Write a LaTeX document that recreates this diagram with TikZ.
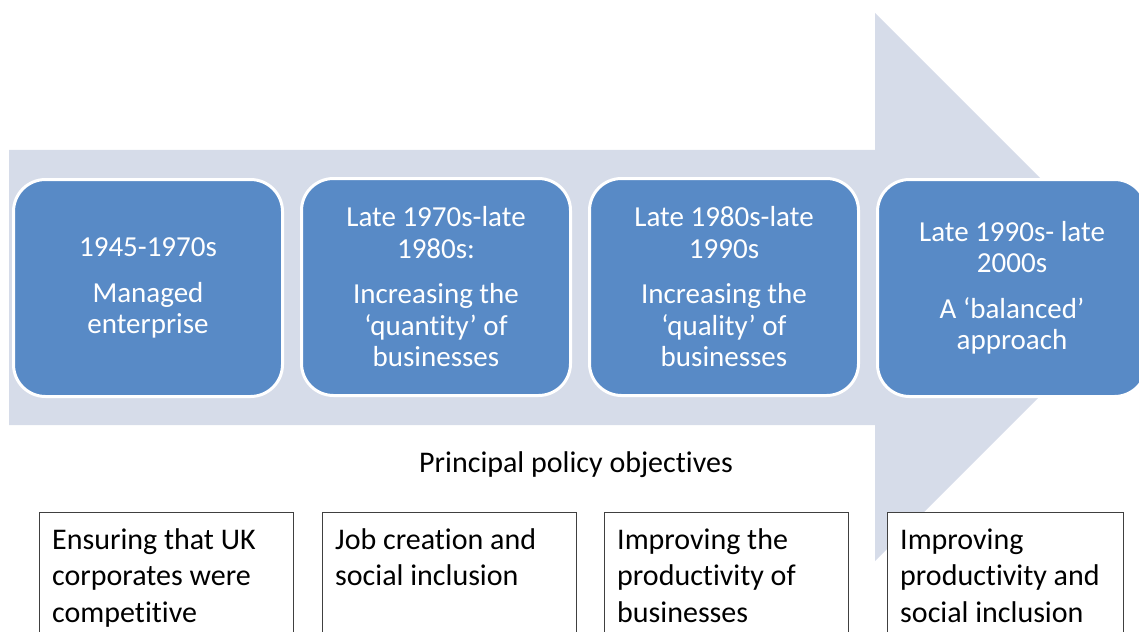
\documentclass[tikz,border=0pt]{standalone}
\usepackage{fontspec}
\setmainfont{Carlito}[Ligatures=CommonOff]
\definecolor{arrowfill}{RGB}{214,220,233}
\definecolor{boxblue}{RGB}{88,138,198}
\definecolor{framegray}{RGB}{64,64,64}
\begin{document}
\begin{tikzpicture}[x=1pt,y=-1pt,
  phase/.style={draw=white, line width=3pt, fill=boxblue, rounded corners=32pt,
    minimum width=269pt, minimum height=217pt, inner sep=0pt, text=white,
    align=center, font=\fontsize{29}{31.5}\selectfont},
  objbox/.style={draw=framegray, line width=1.2pt, fill=white, anchor=north west,
    minimum height=150pt, inner sep=0pt},
  objtext/.style={anchor=base west, align=left, inner sep=0pt,
    font=\fontsize{30}{36.5}\selectfont, text=black},
  caption/.style={anchor=base, inner sep=0pt, font=\fontsize{30}{36}\selectfont, text=black}
]
\useasboundingbox (0,0) rectangle (1139,631);
\clip (0,0) rectangle (1139,631);
% big background arrow
\fill[arrowfill] (9,150) -- (875,150) -- (875,13) -- (1149,287) -- (875,561)
  -- (875,425) -- (9,425) -- cycle;
% phase boxes
\node[phase] (p1) at (148,288) {1945-1970s\\[14pt]Managed\\enterprise};
\node[phase] (p2) at (436,287) {Late 1970s-late\\1980s:\\[14pt]Increasing the\\‘quantity’ of\\businesses};
\node[phase] (p3) at (724,287) {Late 1980s-late\\1990s\\[14pt]Increasing the\\‘quality’ of\\businesses};
\node[phase] (p4) at (1012,288) {Late 1990s- late\\2000s\\[14pt]A ‘balanced’\\approach};
% caption
\node[caption] (cap) at (576,472) {Principal policy objectives};
% objective boxes
\node[objbox, minimum width=254pt] (o1) at (39,512) {};
\node[objbox, minimum width=254pt] (o2) at (322,512) {};
\node[objbox, minimum width=244pt] (o3) at (604,512) {};
\node[objbox, minimum width=236pt] (o4) at (887,512) {};
% base anchor = baseline of the last line; first baseline 37pt below box top
\node[objtext] (t1) at ([xshift=13pt,yshift=-110pt]o1.north west) {Ensuring that UK\\corporates were\\competitive};
\node[objtext] (t2) at ([xshift=13pt,yshift=-73.5pt]o2.north west) {Job creation and\\social inclusion};
\node[objtext] (t3) at ([xshift=13pt,yshift=-110pt]o3.north west) {Improving the\\productivity of\\businesses};
\node[objtext] (t4) at ([xshift=13pt,yshift=-110pt]o4.north west) {Improving\\productivity and\\social inclusion};
\end{tikzpicture}
\end{document}
